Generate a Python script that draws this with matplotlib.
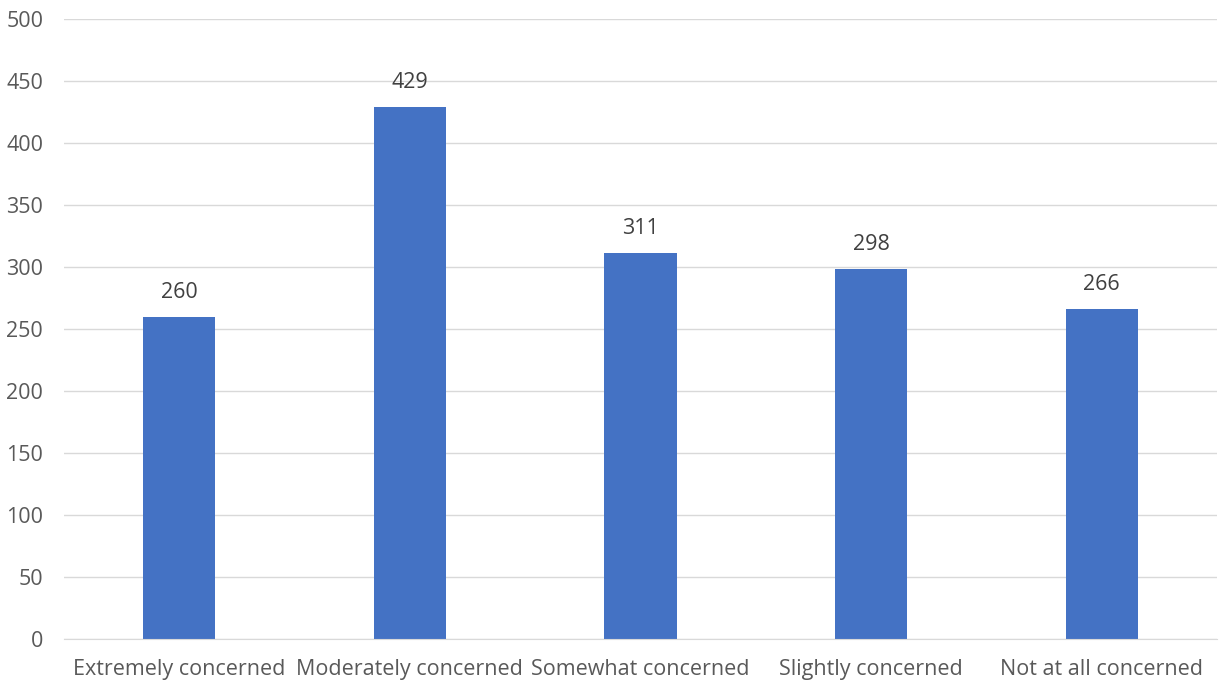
import matplotlib
matplotlib.use("Agg")
import matplotlib.pyplot as plt

categories = ["Extremely concerned", "Moderately concerned", "Somewhat concerned",
              "Slightly concerned", "Not at all concerned"]
counts = [260, 429, 311, 298, 266]
y_ticks = [0, 50, 100, 150, 200, 250, 300, 350, 400, 450, 500]

plt.rcParams['font.family'] = ['Open Sans', 'DejaVu Sans']

fig = plt.figure(figsize=(12.25, 6.85), dpi=100)
ax = fig.add_axes([64 / 1225, 1 - 639 / 685, (1217 - 64) / 1225, (639 - 19) / 685])

x = list(range(len(categories)))
ax.bar(x, counts, width=0.313, color="#4472C4", zorder=3)

for xi, v in zip(x, counts):
    ax.annotate(str(v), (xi, v), xytext=(0, 13.7), textcoords="offset points",
                ha="center", va="baseline", fontsize=15.5, color="#404040")

ax.set_xlim(-0.5, len(categories) - 0.5)
ax.set_ylim(0, 500)
ax.set_yticks(y_ticks)
ax.set_xticks(x)
ax.set_xticklabels(categories)
ax.tick_params(axis="both", length=0, labelsize=15.5, labelcolor="#595959")
ax.tick_params(axis="y", pad=15)
ax.tick_params(axis="x", pad=14.5)

ax.grid(axis="y", color="#D9D9D9", linewidth=1, zorder=0)
for side in ["top", "right", "left"]:
    ax.spines[side].set_visible(False)
ax.spines["bottom"].set_color("#D9D9D9")
ax.spines["bottom"].set_zorder(4)

fig.savefig("out.png", dpi=100, facecolor="white")
